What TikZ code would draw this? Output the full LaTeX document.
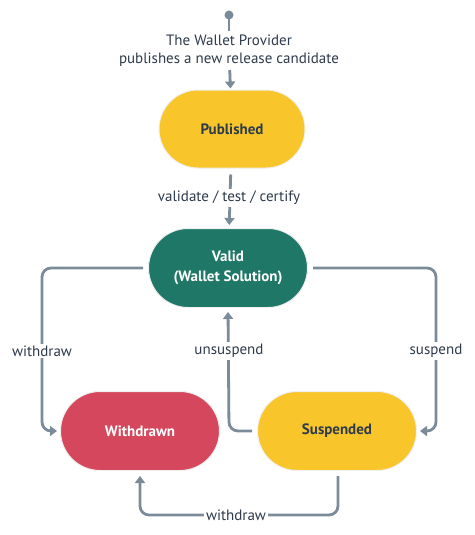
\documentclass[tikz,border=0pt]{standalone}
\usepackage{fontspec}
\setmainfont{PT Sans}
\usetikzlibrary{shapes.misc,arrows.meta}
\definecolor{cyellow}{HTML}{F8C52A}
\definecolor{cgreen}{HTML}{1F7867}
\definecolor{cred}{HTML}{D4475C}
\definecolor{cgray}{HTML}{7B8B9A}
\definecolor{ctext}{HTML}{2E3B4B}
\begin{document}
\begin{tikzpicture}[x=1pt,y=-1pt,
  statebox/.style={rounded rectangle, minimum width=159pt, minimum height=79pt, inner sep=0pt,
    draw=black!6, line width=1pt, font=\fontsize{15}{20}\selectfont\bfseries, align=center},
  lbl/.style={font=\fontsize{15}{18}\selectfont, text=ctext, align=center, inner sep=2pt},
  conn/.style={draw=cgray, line width=2.8pt, rounded corners=9pt},
  arr/.style={-{Triangle[length=7pt,width=10pt]}}
]
\useasboundingbox (0,0) rectangle (474,535);
\fill[white] (0,0) rectangle (474,535);

\node[statebox, fill=cyellow, text=ctext, minimum width=146pt, minimum height=78pt] (pub) at (232,129) {Published};
\node[statebox, fill=cgreen, text=white] (valid) at (228,268) {Valid\\(Wallet Solution)};
\node[statebox, fill=cred, text=white] (wd) at (140,431) {Withdrawn};
\node[statebox, fill=cyellow, text=ctext] (susp) at (337,431) {Suspended};

\coordinate (start) at (229,15);
\fill[cgray] (start) circle (4.5pt);
\node[lbl] (prov) at (229,51) {The Wallet Provider\\publishes a new release candidate};
\draw[conn, shorten >=2pt] (start) -- (prov);
\draw[conn, arr, shorten <=1pt, shorten >=1pt] (prov) -- (pub);

\draw[conn, arr, shorten <=6pt, shorten >=3pt] (pub) -- (valid);
\node[lbl, fill=white] (vtc) at (229,198) {validate / test / certify};

\coordinate (lc) at (42,431);
\draw[conn, arr, shorten <=5pt, shorten >=3pt] (valid.west) -| (lc) -- (wd.west);
\node[lbl, fill=white] (lw) at (42,351) {withdraw};

\coordinate (rc) at (436,431);
\draw[conn, arr, shorten <=5pt, shorten >=3pt] (valid.east) -| (rc) -- (susp.east);
\node[lbl, fill=white] (ls) at (436,351) {suspend};

\coordinate (uc) at (229,431);
\draw[conn, arr, shorten <=5pt, shorten >=4pt] (susp.west) -- (uc) -- (valid.south);
\node[lbl, fill=white] (lu) at (229,351) {unsuspend};

\coordinate (b1) at (338,515);
\coordinate (b2) at (140,515);
\draw[conn, arr, shorten <=5pt, shorten >=5pt] (susp.south -| b1) -- (b1) -- (b2) -- (wd.south);
\node[lbl, fill=white] (lb) at (236,515) {withdraw};
\end{tikzpicture}
\end{document}
